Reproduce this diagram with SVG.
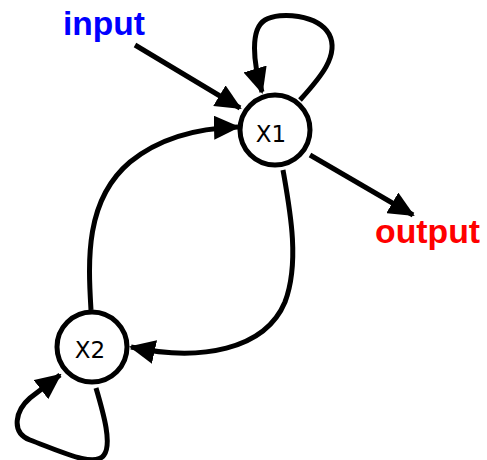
<svg xmlns="http://www.w3.org/2000/svg" width="487" height="460" viewBox="0 0 487 460">
  <style>
    .node circle { fill: #ffffff; stroke: #000000; stroke-width: 5; }
    .node text { font-family: "DejaVu Sans", "Liberation Sans", sans-serif; font-size: 23px; fill: #000000; text-anchor: middle; }
    .edge { fill: none; stroke: #000000; stroke-width: 5; marker-end: url(#arrow); }
    .label { font-family: "Liberation Sans", Arial, sans-serif; font-size: 33px; font-weight: bold; }
  </style>
  <defs>
    <marker id="arrow" markerUnits="userSpaceOnUse" markerWidth="26" markerHeight="24" refX="24" refY="12" orient="auto">
      <path d="M0,0 L26,12 L0,24 Z" fill="#000000"/>
    </marker>
  </defs>
  <rect width="487" height="460" fill="#ffffff"/>

  <g id="connectors">
    <!-- input -> X1 -->
    <path class="edge" d="M135,45 L240,108"/>
    <!-- X1 self loop -->
    <path class="edge" d="M300,100 C320,78 340,55 329,34 C318,15 280,11 265,20 C250,29 253,62 262,92"/>
    <!-- X1 -> output -->
    <path class="edge" d="M310,155 L413,215"/>
    <!-- X2 -> X1 -->
    <path class="edge" d="M91,310 C88,260 85,200 130,162 C162,136 200,128 238,127"/>
    <!-- X1 -> X2 -->
    <path class="edge" d="M283,170 C290,210 300,262 285,302 C265,350 200,362 131,347"/>
    <!-- X2 self loop -->
    <path class="edge" d="M96,388 C104,415 112,444 104,455 C95,468 62,452 30,440 C10,432 16,410 30,398 L60,375"/>
  </g>

  <g id="X1" class="node">
    <circle cx="275" cy="130" r="35"/>
    <text x="271" y="142">X1</text>
  </g>
  <g id="X2" class="node">
    <circle cx="92" cy="347" r="35"/>
    <text x="90" y="358">X2</text>
  </g>

  <g id="labels">
    <text class="label" x="63" y="35" fill="#0000ff" textLength="82" lengthAdjust="spacingAndGlyphs">input</text>
    <text class="label" x="375" y="243" fill="#ff0000" textLength="105" lengthAdjust="spacingAndGlyphs">output</text>
  </g>
</svg>
